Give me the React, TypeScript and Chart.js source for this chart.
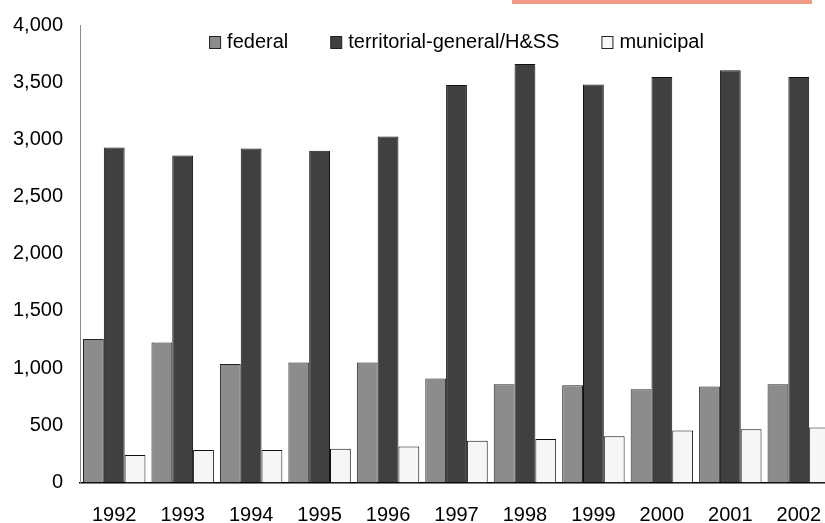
import React, { useEffect, useRef } from "react";
import { Chart, registerables } from "chart.js";

Chart.register(...registerables);

const years = ["1992", "1993", "1994", "1995", "1996", "1997", "1998", "1999", "2000", "2001", "2002"];
const federal = [1255, 1225, 1035, 1050, 1050, 910, 860, 850, 815, 840, 860];
const territorial = [2930, 2860, 2920, 2900, 3025, 3475, 3660, 3480, 3545, 3605, 3545];
const municipal = [240, 285, 285, 295, 315, 365, 380, 405, 455, 465, 480];
const seriesNames = ["federal", "territorial-general/H&SS", "municipal"];
const yTicksMax = 4000;
const yTickStep = 500;

const FONT = "'Liberation Sans', Arial, sans-serif";

const legendPlugin = {
  id: "overlayLegend",
  afterDraw(chart: any) {
    const ctx = chart.ctx;
    const area = chart.chartArea;
    const ds = chart.data.datasets;
    ctx.save();
    ctx.font = `20px ${FONT}`;
    const box = 12;
    const gapText = 6;
    const spacing = 42;
    const widths = ds.map((d: any) => box + gapText + ctx.measureText(d.label).width);
    const total = widths.reduce((a: number, b: number) => a + b, 0) + spacing * (ds.length - 1);
    let x = (area.left + area.right) / 2 - total / 2;
    const yc = 42;
    ds.forEach((d: any, i: number) => {
      ctx.fillStyle = d.backgroundColor;
      ctx.fillRect(x + 0.5, yc - box / 2 + 0.5, box - 1, box);
      ctx.strokeStyle = "#222";
      ctx.lineWidth = 1;
      ctx.strokeRect(x + 0.5, yc - box / 2 + 0.5, box - 1, box);
      ctx.fillStyle = "#000";
      ctx.textBaseline = "middle";
      ctx.textAlign = "left";
      ctx.fillText(d.label, x + box + gapText, yc);
      x += widths[i] + spacing;
    });
    ctx.restore();
  },
};

export default function App() {
  const ref = useRef<HTMLCanvasElement>(null);
  useEffect(() => {
    if (!ref.current) return;
    const chart = new Chart(ref.current, {
      type: "bar",
      data: {
        labels: years,
        datasets: [
          { label: seriesNames[0], data: federal, backgroundColor: "#8c8c8c", borderColor: "#222", borderWidth: 1 },
          { label: seriesNames[1], data: territorial, backgroundColor: "#404040", borderColor: "#111", borderWidth: 1 },
          { label: seriesNames[2], data: municipal, backgroundColor: "#f6f6f6", borderColor: "#111", borderWidth: 1 },
        ],
      },
      options: {
        animation: false,
        responsive: true,
        maintainAspectRatio: false,
        layout: { padding: { top: 25, right: 0, left: 0, bottom: 0 } },
        datasets: { bar: { categoryPercentage: 0.912, barPercentage: 1 } },
        plugins: { legend: { display: false }, tooltip: { enabled: false } },
        scales: {
          x: {
            grid: { display: false, drawTicks: false },
            border: { display: true, color: "#000", width: 1.5 },
            afterFit: (s: any) => { s.height = 40.5; s.paddingLeft = 0; s.paddingRight = 0; },
            ticks: { color: "#000", font: { family: FONT, size: 20, lineHeight: 1 }, padding: 22.5, maxRotation: 0, autoSkip: false },
          },
          y: {
            min: 0,
            max: yTicksMax,
            grid: { display: false, drawTicks: false },
            border: { display: true, color: "#8a8a8a", width: 1 },
            afterFit: (s: any) => { s.width = 80; s.paddingTop = 0; s.paddingBottom = 0; },
            ticks: {
              stepSize: yTickStep,
              color: "#000",
              padding: 17,
              font: { family: FONT, size: 20 },
              callback: (v: any) => Number(v).toLocaleString("en-US"),
            },
          },
        },
      },
      plugins: [legendPlugin],
    });
    return () => chart.destroy();
  }, []);
  return (
    <div style={{ position: "fixed", left: 0, top: 0, width: 825, height: 523, overflow: "hidden", background: "#fff" }}>
      <div style={{ position: "absolute", left: 0, top: 0, width: 833, height: 523 }}>
        <canvas ref={ref} />
      </div>
      <div style={{ position: "absolute", left: 512, top: 0, width: 300, height: 4, background: "#f29a88" }} />
    </div>
  );
}
